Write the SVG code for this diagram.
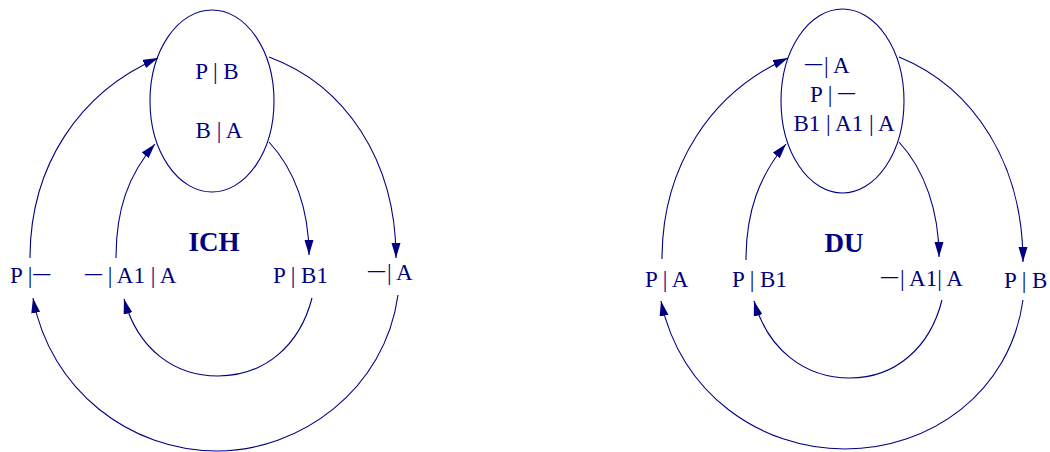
<svg xmlns="http://www.w3.org/2000/svg" width="1050" height="452" viewBox="0 0 1050 452">
<style>
.t{font-family:"Liberation Serif","Times New Roman",serif;font-size:23px;fill:#000080}
.b{font-family:"Liberation Serif","Times New Roman",serif;font-size:27px;font-weight:bold;fill:#000080}
.d{font-size:17px;font-weight:bold}
.e{fill:none;stroke:#000080;stroke-width:1.1}
.c path{fill:none;stroke:#000080;stroke-width:1.1;marker-end:url(#ah)}
</style>
<defs>
<marker id="ah" markerUnits="userSpaceOnUse" markerWidth="16" markerHeight="10" refX="15" refY="4.5" orient="auto">
<path d="M0,0 L15,4.5 L0,9 z" fill="#000080"/>
</marker>
</defs>
<rect width="1050" height="452" fill="#ffffff"/>

<!-- ICH -->
<g id="ich-state">
<ellipse class="e" cx="212" cy="101" rx="62" ry="91"/>
<text class="t" x="217" y="79" text-anchor="middle">P | B</text>
<text class="t" x="219" y="138" text-anchor="middle">B | A</text>
</g>
<g id="ich-label"><text class="b" x="214" y="251" text-anchor="middle">ICH</text></g>
<g id="ich-n1"><text class="t" x="10" y="283">P |<tspan class="d" dx="1" baseline-shift="4">—</tspan></text></g>
<g id="ich-n2"><text class="t" x="85" y="283"><tspan class="d" baseline-shift="4">—</tspan> | A1 | A</text></g>
<g id="ich-n3"><text class="t" x="273" y="283">P | B1</text></g>
<g id="ich-n4"><text class="t" x="368" y="280"><tspan class="d" baseline-shift="4">—</tspan><tspan dx="2">| A</tspan></text></g>
<g id="ich-connectors" class="c">
<path d="M30,258 C30,165 80,92 158,58"/>
<path d="M269,57 C345,85 396,160 396,258"/>
<path d="M398,295 C385,390 300,451 217,451 C130,451 50,390 33,298"/>
<path d="M116,258 C116,210 128,175 155,144"/>
<path d="M269,142 C295,170 309,210 309,255"/>
<path d="M312,298 C300,345 265,376 218,376 C175,376 138,350 124,299"/>
</g>

<!-- DU -->
<g id="du-state">
<ellipse class="e" cx="842.5" cy="101" rx="61.5" ry="92"/>
<text class="t" x="805" y="73"><tspan class="d" baseline-shift="4">—</tspan><tspan dx="2">|  A</tspan></text>
<text class="t" x="810" y="102">P | <tspan class="d" baseline-shift="4">—</tspan></text>
<text class="t" x="844" y="131" text-anchor="middle">B1 | A1 | A</text>
</g>
<g id="du-label"><text class="b" x="844" y="252" text-anchor="middle">DU</text></g>
<g id="du-n1"><text class="t" x="645" y="287">P | A</text></g>
<g id="du-n2"><text class="t" x="732" y="287">P | B1</text></g>
<g id="du-n3"><text class="t" x="881" y="286"><tspan class="d" baseline-shift="4">—</tspan><tspan dx="2">| A1| A</tspan></text></g>
<g id="du-n4"><text class="t" x="1004" y="288">P | B</text></g>
<g id="du-connectors" class="c">
<path d="M662,259 C662,165 712,92 788,58"/>
<path d="M899,57 C975,88 1023,165 1023,262"/>
<path d="M1023,300 C1010,393 930,449 845,449 C760,449 680,393 661,301"/>
<path d="M746,260 C746,212 759,176 786,144"/>
<path d="M899,142 C925,170 939,212 939,257"/>
<path d="M942,300 C930,348 895,378 850,378 C805,378 768,350 754,301"/>
</g>
</svg>
